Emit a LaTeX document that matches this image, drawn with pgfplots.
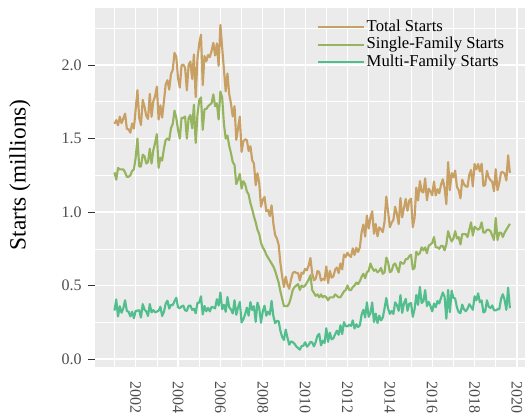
\documentclass[border=0pt]{standalone}
\usepackage{fontspec}
\setmainfont{Liberation Serif}
\usepackage{pgfplots}
\usepackage{pgfplotstable}
\pgfplotsset{compat=1.18}

\definecolor{totc}{HTML}{C8A064}
\definecolor{sfc}{HTML}{96B45F}
\definecolor{mfc}{HTML}{52BE8E}
\definecolor{panelbg}{HTML}{EBEBEB}
\definecolor{tickc}{HTML}{4D4D4D}

% monthly housing starts, millions (total, single-family, multi-family)
\pgfplotstableread{
x T S M
2001.000 1.600 1.27 0.330
2001.083 1.625 1.22 0.405
2001.167 1.590 1.30 0.290
2001.250 1.649 1.29 0.359
2001.333 1.605 1.29 0.315
2001.417 1.636 1.29 0.346
2001.500 1.670 1.27 0.400
2001.583 1.567 1.24 0.327
2001.667 1.562 1.24 0.322
2001.750 1.540 1.25 0.290
2001.833 1.602 1.28 0.322
2001.917 1.568 1.29 0.278
2002.000 1.698 1.37 0.328
2002.083 1.829 1.50 0.329
2002.167 1.642 1.31 0.332
2002.250 1.592 1.31 0.282
2002.333 1.764 1.39 0.374
2002.417 1.717 1.38 0.337
2002.500 1.655 1.33 0.325
2002.583 1.633 1.34 0.293
2002.667 1.804 1.43 0.374
2002.750 1.648 1.33 0.318
2002.833 1.753 1.42 0.333
2002.917 1.788 1.47 0.318
2003.000 1.853 1.53 0.323
2003.083 1.629 1.30 0.329
2003.167 1.726 1.37 0.356
2003.250 1.643 1.35 0.293
2003.333 1.751 1.43 0.321
2003.417 1.867 1.49 0.377
2003.500 1.897 1.50 0.397
2003.583 1.833 1.49 0.343
2003.667 1.939 1.57 0.369
2003.750 1.967 1.60 0.367
2003.833 2.083 1.69 0.393
2003.917 2.057 1.64 0.417
2004.000 1.911 1.56 0.351
2004.083 1.846 1.50 0.346
2004.167 1.998 1.64 0.358
2004.250 2.003 1.64 0.363
2004.333 1.981 1.65 0.331
2004.417 1.828 1.50 0.328
2004.500 2.002 1.64 0.362
2004.583 2.024 1.66 0.364
2004.667 1.905 1.57 0.335
2004.750 2.072 1.73 0.342
2004.833 1.782 1.47 0.312
2004.917 2.042 1.66 0.382
2005.000 2.144 1.76 0.384
2005.083 2.207 1.78 0.427
2005.167 1.864 1.56 0.304
2005.250 2.061 1.70 0.361
2005.333 2.025 1.70 0.325
2005.417 2.068 1.72 0.348
2005.500 2.054 1.73 0.324
2005.583 2.095 1.74 0.355
2005.667 2.151 1.80 0.351
2005.750 2.065 1.72 0.345
2005.833 2.147 1.74 0.407
2005.917 1.994 1.63 0.364
2006.000 2.273 1.82 0.453
2006.083 2.119 1.78 0.339
2006.167 1.969 1.60 0.369
2006.250 1.821 1.50 0.321
2006.333 1.942 1.52 0.422
2006.417 1.802 1.45 0.352
2006.500 1.737 1.40 0.337
2006.583 1.650 1.34 0.310
2006.667 1.720 1.32 0.400
2006.750 1.491 1.19 0.301
2006.833 1.570 1.22 0.350
2006.917 1.649 1.26 0.389
2007.000 1.409 1.16 0.249
2007.083 1.480 1.21 0.270
2007.167 1.495 1.19 0.305
2007.250 1.490 1.14 0.350
2007.333 1.415 1.12 0.295
2007.417 1.448 1.06 0.388
2007.500 1.354 1.02 0.334
2007.583 1.330 0.97 0.360
2007.667 1.183 0.93 0.253
2007.750 1.264 0.88 0.384
2007.833 1.197 0.85 0.347
2007.917 1.037 0.79 0.247
2008.000 1.084 0.76 0.324
2008.083 1.103 0.74 0.363
2008.167 1.005 0.71 0.295
2008.250 1.013 0.69 0.323
2008.333 0.973 0.67 0.303
2008.417 1.046 0.65 0.396
2008.500 0.923 0.63 0.293
2008.583 0.844 0.60 0.244
2008.667 0.820 0.56 0.260
2008.750 0.777 0.52 0.257
2008.833 0.652 0.46 0.192
2008.917 0.560 0.41 0.150
2009.000 0.490 0.36 0.130
2009.083 0.560 0.36 0.200
2009.167 0.505 0.36 0.145
2009.250 0.478 0.38 0.098
2009.333 0.540 0.42 0.120
2009.417 0.585 0.47 0.115
2009.500 0.594 0.49 0.104
2009.583 0.586 0.50 0.086
2009.667 0.585 0.51 0.075
2009.750 0.534 0.47 0.064
2009.833 0.588 0.50 0.088
2009.917 0.581 0.49 0.091
2010.000 0.614 0.50 0.114
2010.083 0.604 0.52 0.084
2010.167 0.636 0.54 0.096
2010.250 0.687 0.57 0.117
2010.333 0.583 0.47 0.113
2010.417 0.536 0.45 0.086
2010.500 0.546 0.43 0.116
2010.583 0.599 0.44 0.159
2010.667 0.591 0.42 0.171
2010.750 0.533 0.44 0.093
2010.833 0.545 0.42 0.125
2010.917 0.539 0.43 0.109
2011.000 0.630 0.42 0.210
2011.083 0.517 0.40 0.117
2011.167 0.600 0.42 0.180
2011.250 0.554 0.42 0.134
2011.333 0.561 0.42 0.141
2011.417 0.608 0.44 0.168
2011.500 0.623 0.43 0.193
2011.583 0.585 0.42 0.165
2011.667 0.650 0.42 0.230
2011.750 0.610 0.44 0.170
2011.833 0.711 0.46 0.251
2011.917 0.694 0.47 0.224
2012.000 0.723 0.50 0.223
2012.083 0.704 0.47 0.234
2012.167 0.695 0.47 0.225
2012.250 0.753 0.49 0.263
2012.333 0.708 0.50 0.208
2012.417 0.757 0.52 0.237
2012.500 0.728 0.51 0.218
2012.583 0.759 0.53 0.229
2012.667 0.863 0.56 0.303
2012.750 0.915 0.58 0.335
2012.833 0.833 0.55 0.283
2012.917 0.976 0.59 0.386
2013.000 0.888 0.60 0.288
2013.083 0.962 0.65 0.312
2013.167 1.005 0.62 0.385
2013.250 0.852 0.60 0.252
2013.333 0.919 0.61 0.309
2013.417 0.835 0.59 0.245
2013.500 0.896 0.60 0.296
2013.583 0.883 0.62 0.263
2013.667 0.863 0.58 0.283
2013.750 0.936 0.59 0.346
2013.833 1.105 0.69 0.415
2013.917 1.003 0.66 0.343
2014.000 0.897 0.59 0.307
2014.083 0.927 0.60 0.327
2014.167 0.947 0.64 0.307
2014.250 1.036 0.65 0.386
2014.333 0.987 0.62 0.367
2014.417 0.918 0.59 0.328
2014.500 1.095 0.66 0.435
2014.583 0.964 0.65 0.314
2014.667 1.029 0.65 0.379
2014.750 1.089 0.68 0.409
2014.833 1.008 0.68 0.328
2014.917 1.077 0.70 0.377
2015.000 1.091 0.71 0.381
2015.083 0.897 0.61 0.287
2015.167 0.960 0.62 0.340
2015.250 1.166 0.73 0.436
2015.333 1.079 0.71 0.369
2015.417 1.211 0.72 0.491
2015.500 1.141 0.76 0.381
2015.583 1.133 0.74 0.393
2015.667 1.229 0.76 0.469
2015.750 1.080 0.72 0.360
2015.833 1.159 0.77 0.389
2015.917 1.141 0.78 0.361
2016.000 1.114 0.79 0.324
2016.083 1.208 0.83 0.378
2016.167 1.113 0.76 0.353
2016.250 1.155 0.76 0.395
2016.333 1.128 0.75 0.378
2016.417 1.187 0.77 0.417
2016.500 1.223 0.77 0.453
2016.583 1.164 0.74 0.424
2016.667 1.054 0.78 0.274
2016.750 1.340 0.87 0.470
2016.833 1.149 0.83 0.319
2016.917 1.265 0.80 0.465
2017.000 1.236 0.82 0.416
2017.083 1.282 0.87 0.412
2017.167 1.171 0.82 0.351
2017.250 1.149 0.83 0.319
2017.333 1.093 0.78 0.313
2017.417 1.220 0.85 0.370
2017.500 1.188 0.85 0.338
2017.583 1.175 0.85 0.325
2017.667 1.172 0.83 0.342
2017.750 1.253 0.88 0.373
2017.833 1.286 0.93 0.356
2017.917 1.175 0.84 0.335
2018.000 1.327 0.90 0.427
2018.083 1.290 0.89 0.400
2018.167 1.327 0.88 0.447
2018.250 1.276 0.89 0.386
2018.333 1.329 0.93 0.399
2018.417 1.177 0.86 0.317
2018.500 1.184 0.86 0.324
2018.583 1.280 0.88 0.400
2018.667 1.236 0.88 0.356
2018.750 1.217 0.87 0.347
2018.833 1.205 0.84 0.365
2018.917 1.142 0.81 0.332
2019.000 1.291 0.96 0.331
2019.083 1.149 0.81 0.339
2019.167 1.199 0.86 0.339
2019.250 1.270 0.86 0.410
2019.333 1.271 0.83 0.441
2019.417 1.262 0.86 0.402
2019.500 1.215 0.88 0.335
2019.583 1.386 0.90 0.486
2019.667 1.266 0.92 0.346
}\starts

\begin{document}
\begin{tikzpicture}
\begin{axis}[
    scale only axis,
    width=325.2pt, height=269.25pt,
    xmin=2000.08, xmax=2020.55,
    ymin=-0.054, ymax=2.388,
    axis background/.style={fill=panelbg},
    axis line style={draw=none},
    xtick={2002,2004,2006,2008,2010,2012,2014,2016,2018,2020},
    minor xtick={2001,2003,2005,2007,2009,2011,2013,2015,2017,2019},
    ytick={0,0.5,1,1.5,2},
    minor ytick={0.25,0.75,1.25,1.75,2.25},
    grid=both,
    major grid style={white, line width=0.85pt},
    minor grid style={white, line width=0.45pt},
    tick align=outside,
    major tick length=5.25pt, minor tick length=0pt,
    xtick pos=bottom, ytick pos=left,
    major x tick style={draw=none},
    major y tick style={draw=black!80, line width=0.8pt},
    /pgf/number format/assume math mode=true,
    x tick label style={/pgf/number format/1000 sep={}, rotate=-90, anchor=west,
        font=\fontsize{12}{14}\selectfont, text=tickc},
    xticklabel shift=2pt,
    y tick label style={/pgf/number format/.cd, fixed, fixed zerofill, precision=1, /tikz/.cd,
        font=\fontsize{12}{14}\selectfont, text=tickc},
    yticklabel shift=1.25pt,
    ylabel={Starts (millions)},
    every axis y label/.style={at={(axis description cs:-0.173,0.535)}, rotate=90,
        anchor=center, font=\fontsize{17.5}{20}\selectfont},
    legend cell align=left,
    legend image code/.code={
        \draw[#1] (0pt,0pt) -- (24.75pt,0pt);
        \path (0pt,0pt) -- (34.5pt,0pt);},
    legend style={at={(0.512,0.972)}, anchor=north west, draw=none, fill=none,
        font=\fontsize{12.5}{14}\selectfont, row sep=0pt, inner sep=0pt,
        nodes={inner sep=1pt, text height=8.6pt, text depth=2.6pt}},
]
\addplot[totc, line width=1.6pt, line join=round, no marks] table[x=x, y=T]{\starts};
\addlegendentry{Total Starts}
\addplot[sfc, line width=1.6pt, line join=round, no marks] table[x=x, y=S]{\starts};
\addlegendentry{Single-Family Starts}
\addplot[mfc, line width=1.6pt, line join=round, no marks] table[x=x, y=M]{\starts};
\addlegendentry{Multi-Family Starts}
\end{axis}
\pgfresetboundingbox
\path[use as bounding box] ([xshift=-71.25pt,yshift=-38.25pt]current axis.south west)
    rectangle ++(393.75pt,313.5pt);
\end{tikzpicture}
\end{document}
